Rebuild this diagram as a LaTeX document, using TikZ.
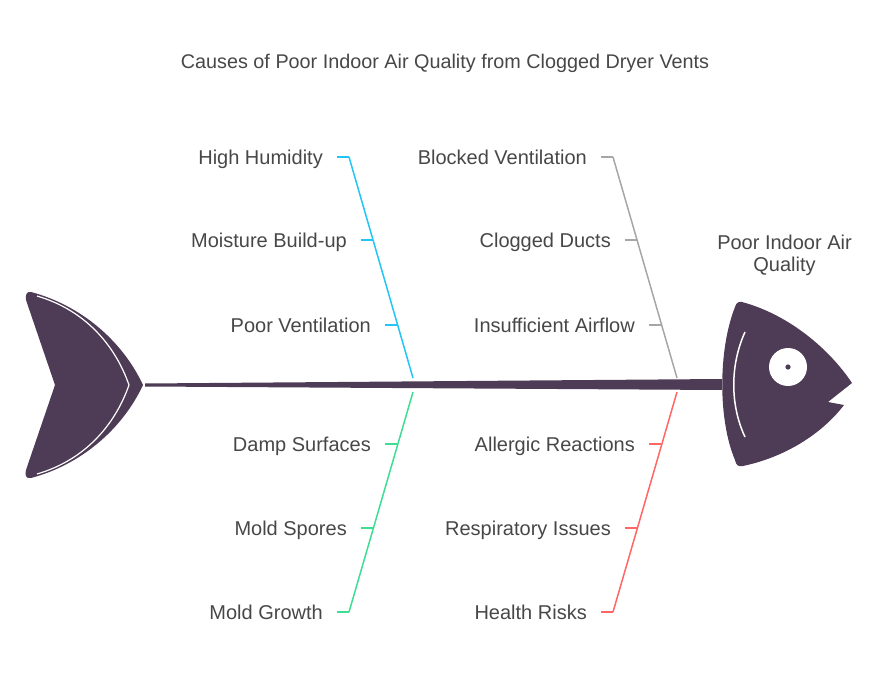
\documentclass[tikz,border=0pt]{standalone}
\usepackage{fontspec}
\setmainfont{Liberation Sans}
\usepackage{xcolor}

\begin{document}
\begin{tikzpicture}[x=1pt,y=-1pt,
  cause/.style={inner sep=0,text=txtgray,font=\fontsize{20}{22}\selectfont},
  bone/.style={line width=1.5pt}]
\definecolor{fishbody}{HTML}{4E3B55}
\definecolor{txtgray}{HTML}{474747}
\definecolor{cyanline}{HTML}{22C5F5}
\definecolor{greenline}{HTML}{3FDD93}
\definecolor{grayline}{HTML}{A6A6A6}
\definecolor{redline}{HTML}{FF6767}
\useasboundingbox (0,0) rectangle (884,674);
\node[cause,anchor=base,font=\fontsize{19.8}{22}\selectfont] (title) at (445,68.5) {Causes of Poor Indoor Air Quality from Clogged Dryer Vents};
% spine, tail and head
\fill[fishbody] (145,383.5) -- (722,379) -- (722,390) -- (145,386.5) -- cycle;
\fill[fishbody] (31,292) .. controls (80,305) and (122,340) .. (143,385)
  .. controls (122,430) and (80,465) .. (31,478)
  .. controls (25,479) and (25,474) .. (26,470)
  -- (55,385) -- (26,300) .. controls (25,295) and (27,291) .. (31,292) -- cycle;
\draw[white,line width=1.2pt] (37,296) .. controls (85,310) and (115,345) .. (129,385)
  .. controls (115,425) and (85,460) .. (37,474);
\fill[fishbody] (742,302) .. controls (790,315) and (830,350) .. (852,383)
  -- (828,402) -- (844,405) .. controls (825,430) and (790,456) .. (743,466)
  .. controls (738,467) and (736,465) .. (735,460)
  .. controls (718,420) and (718,350) .. (735,307)
  .. controls (736,303) and (739,301) .. (742,302) -- cycle;
\draw[white,line width=1.5pt] (745,332) .. controls (730,365) and (730,405) .. (745,437);
\node[circle,fill=white,minimum size=38,inner sep=0] (eye) at (788,367) {};
\fill[fishbody] (eye.center) circle (2.6);
\node[cause,align=center,anchor=north] (effect) at (784.5,234.4) {Poor Indoor Air\\Quality};
% the four bones
\foreach \br/\clr/\xa/\ya/\xb/\yb in {humid/cyanline/349/157/413/378,vent/grayline/613/157/677/378,
  mold/greenline/413/392/349/612,health/redline/677/392/613/612}
{ \coordinate (\br-a) at (\xa,\ya);
  \coordinate (\br-b) at (\xb,\yb);
  \draw[bone,draw=\clr] (\br-a) -- (\br-b);}
\foreach \nm/\txt/\x/\y/\clr in {hum/High Humidity/349/157/cyanline,moist/Moisture Build-up/373/240/cyanline,
  poor/Poor Ventilation/397/325/cyanline,damp/Damp Surfaces/397/444/greenline,
  spore/Mold Spores/373/528/greenline,growth/Mold Growth/349/612/greenline,
  block/Blocked Ventilation/613/157/grayline,duct/Clogged Ducts/637/240/grayline,
  flow/Insufficient Airflow/661/325/grayline,allerg/Allergic Reactions/661/444/redline,
  resp/Respiratory Issues/637/528/redline,risk/Health Risks/613/612/redline}
{ \coordinate (\nm-on) at (\x,\y);
  \coordinate (\nm-off) at (\x-12.5,\y);
  \node[cause,anchor=base east] (\nm) at (\x-26,\y+7.6) {\txt};
  \draw[bone,draw=\clr] (\nm-off) -- (\nm-on);}
\end{tikzpicture}
\end{document}
